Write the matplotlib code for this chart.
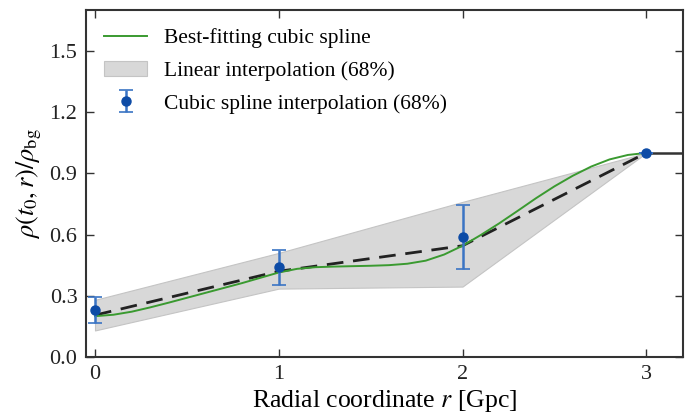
import matplotlib
matplotlib.use("Agg")
import matplotlib.pyplot as plt
import numpy as np

plt.rcParams.update({
    "font.family": "serif",
    "font.serif": ["Liberation Serif", "DejaVu Serif"],
    "mathtext.fontset": "stix",
    "font.size": 13,
    "axes.linewidth": 1.5,
    "axes.edgecolor": "#333333",
    "xtick.direction": "in", "ytick.direction": "in",
    "xtick.top": True, "ytick.right": True,
    "xtick.major.size": 6, "ytick.major.size": 6,
    "xtick.major.width": 1.0, "ytick.major.width": 1.0,
})

# knots of the density profile
r_knots = [0, 1, 2, 3]
rho_linear = [0.205, 0.42, 0.545, 1.0]
band_lo = [0.13, 0.335, 0.345, 1.0]
band_hi = [0.28, 0.51, 0.76, 1.0]

# cubic spline interpolation at the knots (68% errors)
rho_spline = [0.23, 0.44, 0.59, 1.0]
rho_spline_err = [0.065, 0.085, 0.157, 0.0]

# best-fitting cubic spline, sampled along r
r_fit = [0, 0.1, 0.2, 0.3, 0.4, 0.5, 0.6, 0.7, 0.8, 0.9, 1.0, 1.1, 1.2, 1.3,
         1.4, 1.5, 1.6, 1.7, 1.8, 1.9, 2.0, 2.1, 2.2, 2.3, 2.4, 2.5, 2.6,
         2.7, 2.8, 2.9, 3.0]
rho_fit = [0.200, 0.207, 0.222, 0.243, 0.266, 0.290, 0.314, 0.338, 0.362,
           0.388, 0.414, 0.432, 0.440, 0.443, 0.445, 0.447, 0.450, 0.457,
           0.472, 0.502, 0.545, 0.598, 0.655, 0.716, 0.778, 0.836, 0.888,
           0.933, 0.968, 0.990, 1.000]

# homogeneous background beyond the last knot
r_out = [3.0, 3.2]
rho_out = [1.0, 1.0]

GREEN = "#3a9a30"
BLUE = "#0d4ba6"
EBLUE = "#3a74c4"

fig = plt.figure(figsize=(6.92, 4.19), dpi=100)
ax = fig.add_axes([0.124, 0.148, 0.863, 0.828])

ax.fill_between(r_knots, band_lo, band_hi, color="#d8d8d8", ec="#c4c4c4",
                lw=0.8, label="Linear interpolation (68%)", zorder=1)
ax.plot(r_knots, rho_linear, ls=(0, (6, 3.5)), lw=2.0, color="#222222", zorder=3)
ax.plot(r_fit, rho_fit, lw=1.4, color=GREEN, label="Best-fitting cubic spline",
        zorder=4)
ax.plot(r_out, rho_out, lw=1.8, color="#333333", zorder=2)
ax.errorbar(r_knots, rho_spline, yerr=rho_spline_err, fmt="o", ms=6.5,
            color=BLUE, ecolor=EBLUE, elinewidth=1.8, capsize=5, capthick=1.2,
            label="Cubic spline interpolation (68%)", zorder=5)

ax.set_xlim(-0.05, 3.2)
ax.set_ylim(0.0, 1.7)
ax.set_xticks([0, 1, 2, 3])
ax.set_yticks([0.0, 0.3, 0.6, 0.9, 1.2, 1.5])
ax.set_yticklabels(["0.0", "0.3", "0.6", "0.9", "1.2", "1.5"])
ax.tick_params(labelsize=16, pad=6, colors="#333333", labelcolor="#222222")

ax.set_xlabel("Radial coordinate $r$ [Gpc]", fontsize=18.5, labelpad=3)
ax.set_ylabel(r"$\rho(t_0,r)/\rho_{\rm bg}$", fontsize=19, labelpad=4)

handles, labels = ax.get_legend_handles_labels()
order = [labels.index("Best-fitting cubic spline"),
         labels.index("Linear interpolation (68%)"),
         labels.index("Cubic spline interpolation (68%)")]
ax.legend([handles[i] for i in order], [labels[i] for i in order],
          loc="upper left", frameon=False, fontsize=15.5, handlelength=2.0,
          handletextpad=0.8, labelspacing=0.58, borderaxespad=0.45)

fig.savefig("out.png", dpi=100)
